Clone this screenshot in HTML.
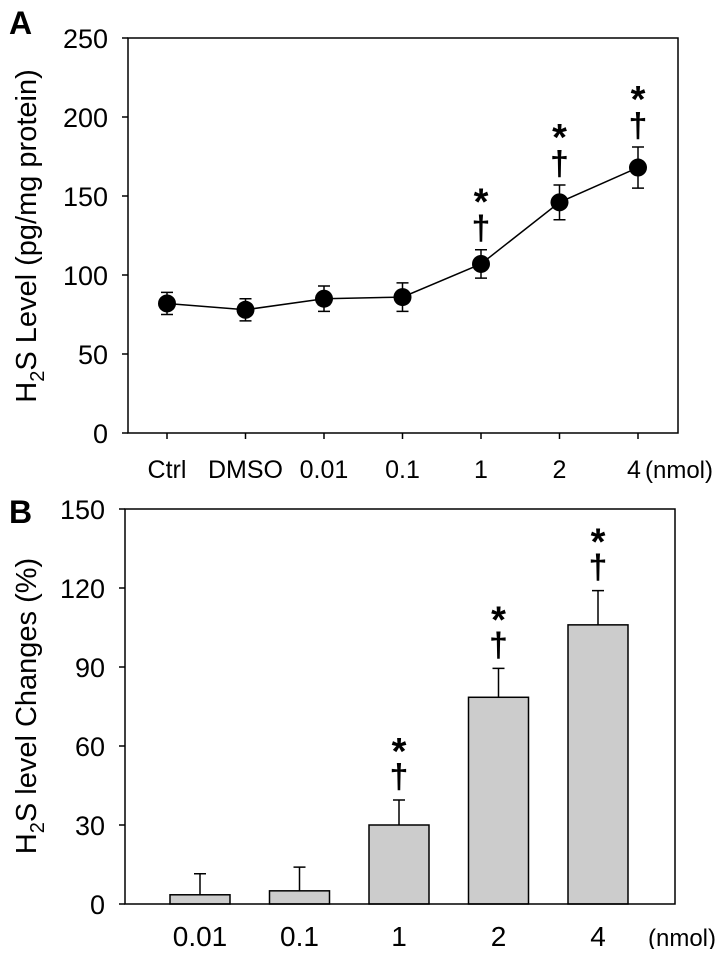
<!DOCTYPE html>
<html><head><meta charset="utf-8"><style>
body{margin:0;background:#fff;width:721px;height:949px;overflow:hidden}
svg text{font-family:"Liberation Sans",Arial,sans-serif;fill:#000}
</style></head><body>
<svg id="s" width="721" height="949" viewBox="0 0 721 949" xmlns="http://www.w3.org/2000/svg">
<text x="9" y="34" font-size="32" font-weight="bold">A</text>
<text x="9" y="523" font-size="32" font-weight="bold">B</text>
<text transform="translate(36,236) rotate(-90)" font-size="29" text-anchor="middle">H<tspan font-size="20" dy="8">2</tspan><tspan dy="-8">S Level (pg/mg protein)</tspan></text>
<text transform="translate(36,706) rotate(-90)" font-size="29" text-anchor="middle">H<tspan font-size="20" dy="8">2</tspan><tspan dy="-8">S level Changes (%)</tspan></text>
<g id="ga"></g><g id="gb"></g>
</svg>
<script>
const catsA=["Ctrl","DMSO","0.01","0.1","1","2","4"];
const valsA=[82,78,85,86,107,146,168];
const errsA=[7,7,8,9,9,11,13];
const sigA=[false,false,false,false,true,true,true];
const ticksA=[0,50,100,150,200,250];
const catsB=["0.01","0.1","1","2","4"];
const valsB=[3.5,5,30,78.5,106];
const errsB=[8,9,9.5,11,13];
const sigB=[false,false,true,true,true];
const ticksB=[0,30,60,90,120,150];
const NS="http://www.w3.org/2000/svg";
function mk(p,t,a,txt){const e=document.createElementNS(NS,t);for(const k in a)e.setAttribute(k,a[k]);if(txt!==undefined)e.textContent=txt;p.appendChild(e);return e;}
// Panel A
const ga=document.getElementById('ga');
const A={l:128,r:678,t:38,b:433,max:250,x0:167,dx:78.5};
const yA=v=>A.b-(v/A.max)*(A.b-A.t);
const xA=i=>A.x0+i*A.dx;
let e=mk(ga,'rect',{x:A.l,y:A.t,width:A.r-A.l,height:A.b-A.t,fill:'none',stroke:'#000','stroke-width':1.5});

ticksA.forEach(t=>{e=mk(ga,'line',{x1:A.l-6,x2:A.l,y1:yA(t),y2:yA(t),stroke:'#000','stroke-width':1.5});

e=mk(ga,'text',{x:A.l-20,y:yA(t)+10,'font-size':27,'text-anchor':'end'},t);
});
catsA.forEach((c,i)=>{e=mk(ga,'line',{x1:xA(i),x2:xA(i),y1:A.b,y2:A.b+6,stroke:'#000','stroke-width':1.5});

e=mk(ga,'text',{x:xA(i)-(i==6?4:0),y:A.b+45,'font-size':25,'text-anchor':'middle'},c);
});
e=mk(ga,'text',{x:645,y:A.b+45,'font-size':24},'(nmol)');

e=mk(ga,'polyline',{points:valsA.map((v,i)=>xA(i)+','+yA(v)).join(' '),fill:'none',stroke:'#000','stroke-width':1.5});

valsA.forEach((v,i)=>{const x=xA(i),y1=yA(v+errsA[i]),y2=yA(v-errsA[i]);
e=mk(ga,'path',{d:`M${x},${y1}V${y2}M${x-6},${y1}H${x+6}M${x-6},${y2}H${x+6}`,stroke:'#000','stroke-width':1.5,fill:'none'});

e=mk(ga,'circle',{cx:x,cy:yA(v),r:9,fill:'#000'});

if(sigA[i]){e=mk(ga,'text',{x:x,y:y1-10,'font-size':34,'font-weight':'bold','text-anchor':'middle'},'†');

e=mk(ga,'text',{x:x,y:y1-35,'font-size':38,'font-weight':'bold','text-anchor':'middle'},'*');
}});
// Panel B
const gb=document.getElementById('gb');
const B={l:125,r:675,t:509,b:904,max:150,x0:200,dx:99.5,bw:60};
const yB=v=>B.b-(v/B.max)*(B.b-B.t);
const xB=i=>B.x0+i*B.dx;
ticksB.forEach(t=>{e=mk(gb,'line',{x1:B.l-6,x2:B.l,y1:yB(t),y2:yB(t),stroke:'#000','stroke-width':1.5});

e=mk(gb,'text',{x:B.l-20,y:yB(t)+10,'font-size':27,'text-anchor':'end'},t);
});
valsB.forEach((v,i)=>{const x=xB(i),y1=yB(v+errsB[i]);
e=mk(gb,'path',{d:`M${x},${yB(v)}V${y1}M${x-6},${y1}H${x+6}`,stroke:'#000','stroke-width':1.5,fill:'none'});

e=mk(gb,'rect',{x:x-B.bw/2,y:yB(v),width:B.bw,height:B.b-yB(v),fill:'#cccccc',stroke:'#000','stroke-width':1.5});

e=mk(gb,'text',{x:x,y:B.b+42,'font-size':28,'text-anchor':'middle'},catsB[i]);

if(sigB[i]){e=mk(gb,'text',{x:x,y:y1-12,'font-size':34,'font-weight':'bold','text-anchor':'middle'},'†');

e=mk(gb,'text',{x:x,y:y1-36,'font-size':38,'font-weight':'bold','text-anchor':'middle'},'*');
}});
e=mk(gb,'rect',{x:B.l,y:B.t,width:B.r-B.l,height:B.b-B.t,fill:'none',stroke:'#000','stroke-width':1.5});

e=mk(gb,'text',{x:648,y:B.b+42,'font-size':24},'(nmol)');

</script>
</body></html>
